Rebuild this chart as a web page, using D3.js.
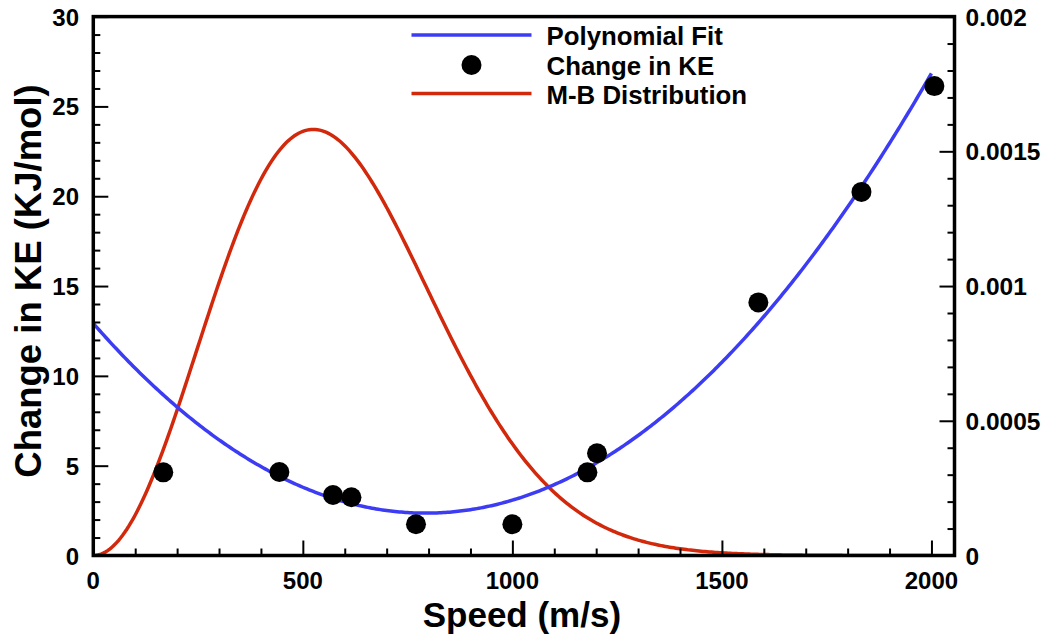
<!DOCTYPE html>
<html>
<head>
<meta charset="utf-8">
<script src="https://cdn.jsdelivr.net/npm/d3@7"></script>
<style>
  html, body { margin: 0; padding: 0; background: #fff; }
  svg { display: block; }
  text { font-family: "Liberation Sans", Arial, Helvetica, sans-serif; font-weight: bold; fill: #000; }
</style>
</head>
<body>
<svg id="chart" width="1049" height="641"></svg>
<script>
// Measured change in kinetic energy vs molecular speed
const speeds   = [167, 444, 572, 616, 770, 1000, 1179, 1202, 1587, 1833, 2007];
const deltaKE  = [4.63, 4.65, 3.37, 3.24, 1.74, 1.74, 4.63, 5.69, 14.09, 20.24, 26.13];

// Quadratic fit coefficients: KE = c0 + c1*v + c2*v^2
const fitCoeffs = [12.92, -0.02664, 1.68e-5];

// Maxwell-Boltzmann speed distribution, most probable speed (m/s)
const mbMostProbableSpeed = 525;

// Axis ticks
const xTicks      = [0, 500, 1000, 1500, 2000];
const yLeftTicks  = [0, 5, 10, 15, 20, 25, 30];
const yRightTicks = [0, 0.0005, 0.001, 0.0015, 0.002];
const yRightLabels = ["0", "0.0005", "0.001", "0.0015", "0.002"];

const legendItems = ["Polynomial Fit", "Change in KE", "M-B Distribution"];

const svg = d3.select("#chart");
const plotL = 93.3, plotR = 954.5, plotT = 16.6, plotB = 555.5;

const x = d3.scaleLinear().domain([0, 2055]).range([plotL, plotR]);
const yL = d3.scaleLinear().domain([0, 30]).range([plotB, plotT]);
const yR = d3.scaleLinear().domain([0, 0.002]).range([plotB, plotT]);

const blue = "#3c3cf5", red = "#d2280c";

// curves sampled along the speed axis
const vSamples = d3.range(0, 2000.001, 5);
const fit = v => fitCoeffs[0] + fitCoeffs[1] * v + fitCoeffs[2] * v * v;
const mb = v => {
  const r = v / mbMostProbableSpeed;
  return 4 / Math.sqrt(Math.PI) * r * r / mbMostProbableSpeed * Math.exp(-r * r);
};

svg.append("clipPath").attr("id", "plotclip")
  .append("rect").attr("x", plotL).attr("y", plotT)
  .attr("width", plotR - plotL).attr("height", plotB - plotT);

const plot = svg.append("g").attr("clip-path", "url(#plotclip)");

plot.append("path")
  .datum(vSamples)
  .attr("fill", "none").attr("stroke", red).attr("stroke-width", 3.5)
  .attr("d", d3.line().x(v => x(v)).y(v => yR(mb(v))));

plot.append("path")
  .datum(vSamples)
  .attr("fill", "none").attr("stroke", blue).attr("stroke-width", 3.5)
  .attr("d", d3.line().x(v => x(v)).y(v => yL(fit(v))));

plot.selectAll("circle.pt")
  .data(speeds.map((s, i) => [s, deltaKE[i]]))
  .join("circle").attr("class", "pt")
  .attr("cx", d => x(d[0])).attr("cy", d => yL(d[1]))
  .attr("r", 10).attr("fill", "#000");

// Axes: ticks point inward
const tickStroke = 2;
const gx = svg.append("g").attr("transform", `translate(0,${plotB})`);
gx.call(d3.axisBottom(x).tickValues(d3.range(0, 2001, 100)).tickSize(-7).tickFormat(""));
gx.call(g => g.select(".domain").remove());
gx.selectAll(".tick line").attr("stroke-width", tickStroke);
gx.selectAll(".tick").filter(d => d % 500 === 0).select("line").attr("y2", -15);

svg.append("g").selectAll("text").data(xTicks).join("text")
  .attr("x", d => x(d)).attr("y", 588.5)
  .attr("text-anchor", "middle").attr("font-size", 24).text(d => d);

const gy = svg.append("g").attr("transform", `translate(${plotL},0)`);
gy.call(d3.axisLeft(yL).tickValues(d3.range(0, 30.001, 1)).tickSize(-7).tickFormat(""));
gy.call(g => g.select(".domain").remove());
gy.selectAll(".tick line").attr("stroke-width", tickStroke);
gy.selectAll(".tick").filter(d => Math.round(d) % 5 === 0).select("line").attr("x2", 15);

svg.append("g").selectAll("text").data(yLeftTicks).join("text")
  .attr("x", 79).attr("y", d => yL(d) + 9)
  .attr("text-anchor", "end").attr("font-size", 24).text(d => d);

const gr = svg.append("g").attr("transform", `translate(${plotR},0)`);
gr.call(d3.axisRight(yR).tickValues(d3.range(0, 0.002001, 0.0001)).tickSize(-7).tickFormat(""));
gr.call(g => g.select(".domain").remove());
gr.selectAll(".tick line").attr("stroke-width", tickStroke);
gr.selectAll(".tick").filter(d => Math.abs(Math.round(d * 10000) % 5) === 0).select("line").attr("x2", -15);

svg.append("g").selectAll("text").data(yRightTicks).join("text")
  .attr("x", 965.5).attr("y", d => yR(d) + 9)
  .attr("text-anchor", "start").attr("font-size", 24.5).text((d, i) => yRightLabels[i]);

// Frame
svg.append("rect").attr("x", plotL).attr("y", plotT)
  .attr("width", plotR - plotL).attr("height", plotB - plotT)
  .attr("fill", "none").attr("stroke", "#000").attr("stroke-width", 3.5);

// Axis titles
svg.append("text").attr("x", (plotL + plotR) / 2 - 2).attr("y", 626.5)
  .attr("text-anchor", "middle").attr("font-size", 35).text("Speed (m/s)");
svg.append("text")
  .attr("transform", "translate(41,281) rotate(-90)")
  .attr("text-anchor", "middle").attr("font-size", 36.5).text("Change in KE (KJ/mol)");

// Legend
const lg = svg.append("g");
const rowY = [35, 65, 93.5];
lg.append("line").attr("x1", 411.5).attr("x2", 531.5).attr("y1", rowY[0]).attr("y2", rowY[0])
  .attr("stroke", blue).attr("stroke-width", 3.5);
lg.append("circle").attr("cx", 471.5).attr("cy", rowY[1]).attr("r", 10).attr("fill", "#000");
lg.append("line").attr("x1", 411.5).attr("x2", 531.5).attr("y1", rowY[2]).attr("y2", rowY[2])
  .attr("stroke", red).attr("stroke-width", 3.5);
lg.selectAll("text").data(legendItems).join("text")
  .attr("x", 546.5).attr("y", (d, i) => rowY[i] + 10)
  .attr("font-size", 25.8).text(d => d);
</script>
</body>
</html>
